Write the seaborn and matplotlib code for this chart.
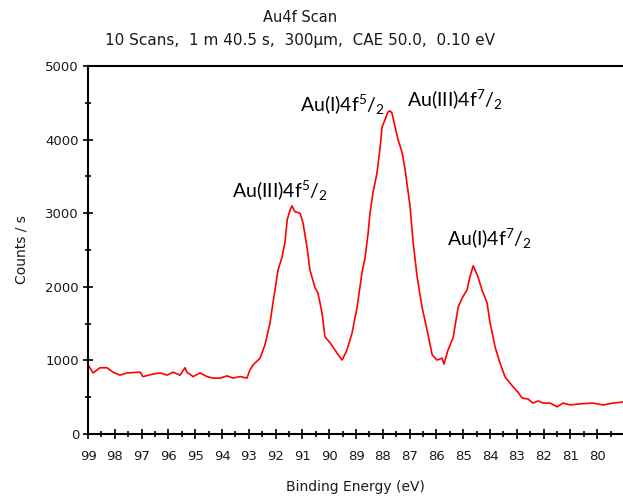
import matplotlib
matplotlib.use("Agg")
import matplotlib.pyplot as plt
from matplotlib.ticker import MultipleLocator
import seaborn as sns
import pandas as pd

# Au 4f XPS spectrum
binding_energy = [
    99.00, 98.81, 98.55, 98.29, 98.07, 97.81, 97.54, 97.06, 96.95, 96.57,
    96.31, 96.05, 95.83, 95.57, 95.38, 95.31, 95.08, 94.82, 94.56, 94.34,
    94.07, 93.81, 93.59, 93.33, 93.07, 92.96, 92.84, 92.58, 92.40, 92.21,
    92.10, 91.91, 91.76, 91.65, 91.57, 91.46, 91.39, 91.28, 91.09, 90.98,
    90.83, 90.72, 90.53, 90.42, 90.27, 90.16, 89.97, 89.71, 89.52, 89.34,
    89.15, 88.96, 88.78, 88.66, 88.55, 88.48, 88.37, 88.22, 88.10, 88.03,
    87.92, 87.81, 87.73, 87.66, 87.54, 87.43, 87.28, 87.17, 86.99, 86.87,
    86.72, 86.54, 86.35, 86.16, 85.98, 85.79, 85.72, 85.57, 85.38, 85.19,
    85.04, 84.93, 84.86, 84.75, 84.63, 84.45, 84.30, 84.11, 84.00, 83.81,
    83.63, 83.44, 83.14, 82.96, 82.81, 82.58, 82.40, 82.21, 82.02, 81.76,
    81.50, 81.28, 81.01, 80.64, 80.16, 79.78, 79.41, 79.04,
]
counts = [
    940, 830, 900, 900, 840, 800, 830, 840, 780, 815,
    830, 800, 840, 800, 900, 840, 780, 830, 780, 760,
    760, 790, 760, 780, 760, 870, 940, 1030, 1210, 1510,
    1780, 2230, 2405, 2610, 2910, 3045, 3100, 3020, 3000, 2870,
    2540, 2230, 1985, 1915, 1645, 1320, 1240, 1100, 1005, 1140,
    1370, 1725, 2190, 2405, 2730, 3000, 3275, 3545, 3900, 4170,
    4270, 4375, 4390, 4360, 4170, 3995, 3820, 3590, 3110, 2600,
    2135, 1725, 1415, 1075, 1005, 1030, 950, 1140, 1305, 1725,
    1850, 1915, 1955, 2135, 2285, 2135, 1955, 1780, 1510, 1180,
    965, 775, 640, 570, 490, 475, 420, 450, 420, 420,
    370, 420, 395, 410, 420, 395, 420, 435,
]

peak_labels = [
    r"Au(III)4f$^{5}$/$_{2}$",
    r"Au(I)4f$^{5}$/$_{2}$",
    r"Au(III)4f$^{7}$/$_{2}$",
    r"Au(I)4f$^{7}$/$_{2}$",
]
label_x = [93.63, 91.09, 87.10, 85.60]
label_y = [3207, 4376, 4444, 2555]

title_lines = ["Au4f Scan", "10 Scans,  1 m 40.5 s,  300\u00b5m,  CAE 50.0,  0.10 eV"]

sns.set_style("white")
plt.rcParams["font.family"] = ["DejaVu Sans"]
plt.rcParams["mathtext.fontset"] = "custom"
plt.rcParams["mathtext.rm"] = "Lato"
plt.rcParams["mathtext.it"] = "Lato"

df = pd.DataFrame({"Binding Energy (eV)": binding_energy, "Counts / s": counts})

fig = plt.figure(figsize=(6.23, 4.98), dpi=100)
ax = fig.add_axes([0.1413, 0.1285, 0.8587, 0.739])

sns.lineplot(data=df, x="Binding Energy (eV)", y="Counts / s", color="#ff0000",
             linewidth=1.2, sort=False, ax=ax)

ax.set_xlim(99, 79.04)
ax.set_ylim(0, 5000)
ax.xaxis.set_major_locator(MultipleLocator(1))
ax.xaxis.set_minor_locator(MultipleLocator(0.5))
ax.yaxis.set_major_locator(MultipleLocator(1000))
ax.yaxis.set_minor_locator(MultipleLocator(500))
ax.tick_params(axis="both", which="both", direction="inout", color="black",
               width=1.2, labelsize=9.5, labelcolor="#1a1a1a",
               bottom=True, left=True, top=False, right=False)
ax.tick_params(axis="both", which="major", length=7)
ax.tick_params(axis="both", which="minor", length=5)
ax.tick_params(axis="x", which="major", pad=8)
ax.tick_params(axis="y", which="major", pad=3)
ax.set_xticklabels([f"{int(round(v))}" for v in ax.get_xticks()])

for side in ["left", "bottom", "top"]:
    ax.spines[side].set_color("black")
    ax.spines[side].set_linewidth(1.5)
ax.spines["right"].set_visible(False)

ax.set_xlabel("Binding Energy (eV)", fontsize=10, color="#1a1a1a", labelpad=12)
ax.set_ylabel("Counts / s", fontsize=10, color="#1a1a1a", labelpad=12)

fig.text(0.482, 0.965, title_lines[0], ha="center", va="center", fontsize=10.5, color="#1a1a1a")
fig.text(0.482, 0.918, title_lines[1], ha="center", va="center", fontsize=11, color="#1a1a1a")

for txt, x, y in zip(peak_labels, label_x, label_y):
    ax.text(x, y, txt, ha="left", va="baseline", fontsize=14, family="Lato", color="black")

fig.savefig("out.png", dpi=100)
